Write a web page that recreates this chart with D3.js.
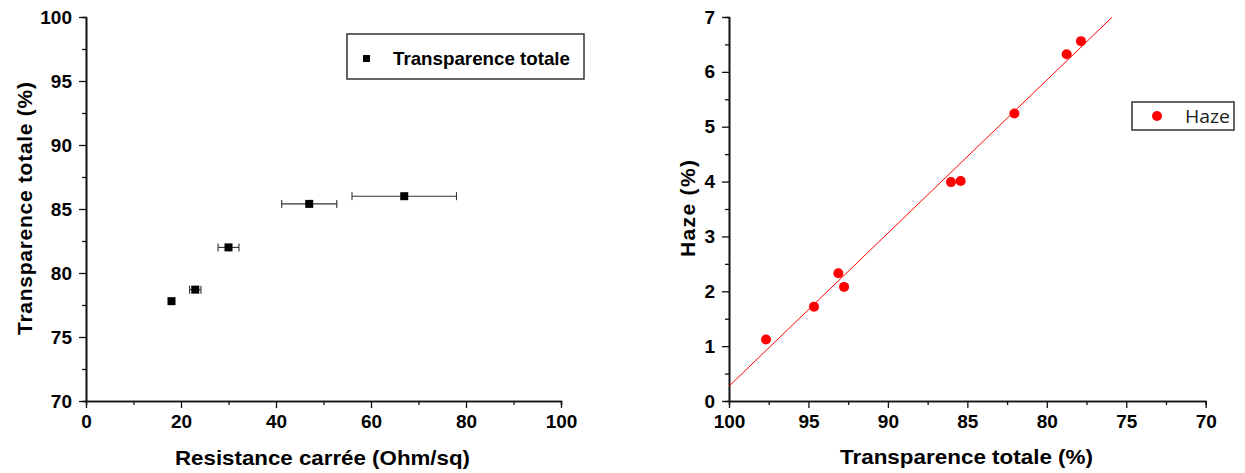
<!DOCTYPE html>
<html><head><meta charset="utf-8">
<script src="https://cdn.jsdelivr.net/npm/d3@7"></script>
<style>body{margin:0;background:#fff}svg{display:block}</style>
</head><body>
<svg id="c" width="1245" height="473"></svg>
<script>
// Left chart data
const resistance = [18, 23, 30, 47, 67];
const transparence = [77.8, 78.7, 82.0, 85.4, 86.0];
const resistanceErr = [0, 1.2, 2.2, 5.8, 11];
const leftXTicks = [0, 20, 40, 60, 80, 100];
const leftXMinor = [10, 30, 50, 70, 90];
const leftYTicks = [70, 75, 80, 85, 90, 95, 100];
const leftYMinor = [72.5, 77.5, 82.5, 87.5, 92.5, 97.5];

// Right chart data
const hazeT = [97.67, 94.65, 93.12, 92.76, 86.03, 85.42, 82.04, 78.75, 77.85];
const hazeV = [1.12, 1.72, 2.33, 2.08, 3.99, 4.01, 5.24, 6.32, 6.56];
const fitT = [100, 75.88];
const fitH = [0.27, 7.0];
const rightXTicks = [100, 95, 90, 85, 80, 75, 70];
const rightXMinor = [97.5, 92.5, 87.5, 82.5, 77.5, 72.5];
const rightYTicks = [0, 1, 2, 3, 4, 5, 6, 7];
const rightYMinor = [0.5, 1.5, 2.5, 3.5, 4.5, 5.5, 6.5];

const svg = d3.select('#c');
svg.append('rect').attr('width', 1245).attr('height', 473).attr('fill', '#fff');
const tickFont = 'Liberation Sans, Arial, sans-serif';

function drawAxes(x, y, xt, xm, yt, ym) {
  const [x0, x1] = x.range();
  const [y0, y1] = y.range();
  const fmt = d => String(d);
  const gxm = svg.append('g').attr('transform', `translate(0,${y0})`)
    .call(d3.axisBottom(x).tickValues(xm).tickSize(4).tickFormat(''));
  const gym = svg.append('g').attr('transform', `translate(${x0},0)`)
    .call(d3.axisLeft(y).tickValues(ym).tickSize(4).tickFormat(''));
  const gx = svg.append('g').attr('transform', `translate(0,${y0})`)
    .call(d3.axisBottom(x).tickValues(xt).tickSize(7).tickPadding(6).tickSizeOuter(0).tickFormat(fmt));
  const gy = svg.append('g').attr('transform', `translate(${x0},0)`)
    .call(d3.axisLeft(y).tickValues(yt).tickSize(7).tickPadding(6).tickSizeOuter(0).tickFormat(fmt));
  [gxm, gym, gx, gy].forEach(g => {
    g.selectAll('path').attr('stroke', '#111').attr('stroke-width', 1.6);
    g.selectAll('line').attr('stroke', '#111').attr('stroke-width', 1.3);
    g.selectAll('text').attr('font-family', tickFont).attr('font-weight', 'bold')
      .attr('font-size', 19).attr('fill', '#000');
  });
  gx.selectAll('text').attr('dy', '0.71em').attr('y', 14);
  gy.selectAll('text').attr('x', -14);
}

// ---------- Left chart ----------
const xL = d3.scaleLinear().domain([0, 100]).range([86, 561]);
const yL = d3.scaleLinear().domain([70, 100]).range([401, 17]);
drawAxes(xL, yL, leftXTicks, leftXMinor, leftYTicks, leftYMinor);

const eb = svg.append('g').attr('stroke', '#333').attr('stroke-width', 1.1);
resistance.forEach((r, i) => {
  const e = resistanceErr[i];
  if (e <= 0) return;
  const yy = yL(transparence[i]);
  eb.append('line').attr('x1', xL(r - e)).attr('x2', xL(r + e)).attr('y1', yy).attr('y2', yy);
  eb.append('line').attr('x1', xL(r - e)).attr('x2', xL(r - e)).attr('y1', yy - 4).attr('y2', yy + 4);
  eb.append('line').attr('x1', xL(r + e)).attr('x2', xL(r + e)).attr('y1', yy - 4).attr('y2', yy + 4);
});
svg.append('g').selectAll('rect').data(resistance).join('rect')
  .attr('x', d => xL(d) - 4).attr('y', (d, i) => yL(transparence[i]) - 4)
  .attr('width', 8).attr('height', 8).attr('fill', '#000');

// Legend left
svg.append('rect').attr('x', 347).attr('y', 34).attr('width', 237).attr('height', 45)
  .attr('fill', '#fff').attr('stroke', '#333').attr('stroke-width', 1.5);
svg.append('rect').attr('x', 363).attr('y', 55).attr('width', 7).attr('height', 7).attr('fill', '#000');
svg.append('text').attr('x', 393).attr('y', 65).attr('font-family', tickFont).attr('font-weight', 'bold')
  .attr('font-size', 19).attr('textLength', 177).attr('lengthAdjust', 'spacingAndGlyphs')
  .text('Transparence totale');

// Axis titles left
svg.append('text').attr('x', 175).attr('y', 465).attr('font-family', tickFont).attr('font-weight', 'bold')
  .attr('font-size', 21).attr('textLength', 295).attr('lengthAdjust', 'spacingAndGlyphs')
  .text('Resistance carrée (Ohm/sq)');
svg.append('text').attr('transform', 'translate(32,335) rotate(-90)').attr('font-family', tickFont)
  .attr('font-weight', 'bold').attr('font-size', 21).attr('textLength', 253).attr('lengthAdjust', 'spacing')
  .text('Transparence totale (%)');

// ---------- Right chart ----------
const xR = d3.scaleLinear().domain([100, 70]).range([729, 1205.7]);
const yR = d3.scaleLinear().domain([0, 7]).range([401, 17]);
drawAxes(xR, yR, rightXTicks, rightXMinor, rightYTicks, rightYMinor);

svg.append('defs').append('clipPath').attr('id', 'clipR').append('rect')
  .attr('x', 729).attr('y', 17).attr('width', 1205.7 - 729).attr('height', 384);
svg.append('path').attr('clip-path', 'url(#clipR)')
  .datum(fitT.map((t, i) => [t, fitH[i]]))
  .attr('d', d3.line().x(d => xR(d[0])).y(d => yR(d[1])))
  .attr('fill', 'none').attr('stroke', '#ff0000').attr('stroke-width', 1);
svg.append('g').selectAll('circle').data(hazeT).join('circle')
  .attr('cx', d => xR(d)).attr('cy', (d, i) => yR(hazeV[i])).attr('r', 5)
  .attr('fill', '#ff0000');

// Legend right
svg.append('rect').attr('x', 1132).attr('y', 102).attr('width', 102).attr('height', 28)
  .attr('fill', '#fff').attr('stroke', '#333').attr('stroke-width', 1.5);
svg.append('circle').attr('cx', 1157).attr('cy', 116).attr('r', 5).attr('fill', '#ff0000');
svg.append('text').attr('x', 1185).attr('y', 122.5).attr('font-family', 'Open Sans, Noto Sans, sans-serif')
  .attr('font-size', 19).attr('fill', '#222').attr('textLength', 45).attr('lengthAdjust', 'spacingAndGlyphs')
  .text('Haze');

// Axis titles right
svg.append('text').attr('x', 840).attr('y', 464).attr('font-family', tickFont).attr('font-weight', 'bold')
  .attr('font-size', 21).attr('textLength', 253).attr('lengthAdjust', 'spacingAndGlyphs')
  .text('Transparence totale (%)');
svg.append('text').attr('transform', 'translate(695,257) rotate(-90)').attr('font-family', tickFont)
  .attr('font-weight', 'bold').attr('font-size', 21).attr('textLength', 97).attr('lengthAdjust', 'spacing')
  .text('Haze (%)');
</script>
</body></html>
